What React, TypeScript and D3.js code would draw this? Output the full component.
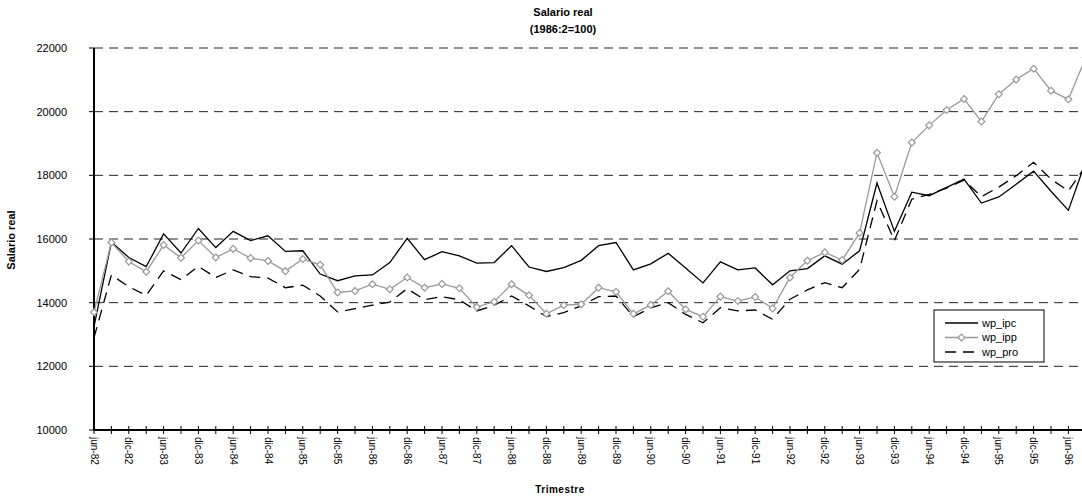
import React, { useEffect, useRef } from "react";
import * as d3 from "d3";

// quarters, jun-82 .. sep-96
const quarters = [
  "jun-82", "sep-82", "dic-82",
  "mar-83", "jun-83", "sep-83", "dic-83",
  "mar-84", "jun-84", "sep-84", "dic-84",
  "mar-85", "jun-85", "sep-85", "dic-85",
  "mar-86", "jun-86", "sep-86", "dic-86",
  "mar-87", "jun-87", "sep-87", "dic-87",
  "mar-88", "jun-88", "sep-88", "dic-88",
  "mar-89", "jun-89", "sep-89", "dic-89",
  "mar-90", "jun-90", "sep-90", "dic-90",
  "mar-91", "jun-91", "sep-91", "dic-91",
  "mar-92", "jun-92", "sep-92", "dic-92",
  "mar-93", "jun-93", "sep-93", "dic-93",
  "mar-94", "jun-94", "sep-94", "dic-94",
  "mar-95", "jun-95", "sep-95", "dic-95",
  "mar-96", "jun-96", "sep-96",
];

const wpIpc = [
  13250, 15900, 15420, 15130, 16160, 15560, 16330, 15730, 16240, 15950,
  16100, 15610, 15630, 14900, 14690, 14840, 14870, 15260, 16020, 15350,
  15600, 15470, 15240, 15260, 15790, 15120, 14980, 15100, 15330, 15790,
  15890, 15030, 15220, 15550, 15090, 14620, 15280, 15030, 15090, 14560,
  15000, 15070, 15470, 15210, 15630, 17760, 16240, 17470, 17360, 17620,
  17880, 17130, 17320, 17720, 18130, 17500, 16900, 18450,
];

const wpIpp = [
  13700, 15890, 15290, 14970, 15810, 15410, 15950, 15420, 15690, 15400,
  15310, 14990, 15370, 15190, 14320, 14370, 14580, 14420, 14790, 14470,
  14590, 14450, 13860, 14030, 14580, 14230, 13650, 13920, 13950, 14470,
  14340, 13650, 13930, 14360, 13790, 13560, 14190, 14050, 14180, 13820,
  14790, 15320, 15580, 15340, 16190, 18710, 17330, 19030, 19570, 20050,
  20400, 19690, 20550, 21010, 21350, 20660, 20390, 21700,
];

const wpPro = [
  12900, 14870, 14500, 14230, 15000, 14720, 15140, 14790, 15030, 14820,
  14770, 14470, 14550, 14210, 13710, 13810, 13920, 14020, 14440, 14090,
  14190, 14090, 13740, 13920, 14210, 13900, 13560, 13690, 13900, 14190,
  14210, 13560, 13840, 14000, 13630, 13370, 13840, 13740, 13770, 13480,
  14110, 14400, 14630, 14470, 15050, 17200, 15950, 17250, 17400, 17600,
  17850, 17330, 17630, 17990, 18410, 17880, 17510, 18300,
];

const yTicks = [10000, 12000, 14000, 16000, 18000, 20000, 22000];

const W = 1082;
const H = 498;
const font = "Arial, 'Liberation Sans', sans-serif";

export default function App() {
  const ref = useRef<SVGSVGElement>(null);

  useEffect(() => {
    const svg = d3.select(ref.current);
    svg.selectAll("*").remove();

    const left = 94;
    const top = 48;
    const bottom = 430;

    const x = d3
      .scalePoint<string>()
      .domain(quarters)
      .range([left, left + 17.4 * (quarters.length - 1)]);
    const y = d3.scaleLinear().domain([10000, 22000]).range([bottom, top]);

    // gridlines
    svg
      .append("g")
      .selectAll("line")
      .data(yTicks.filter((t) => t > 10000))
      .enter()
      .append("line")
      .attr("x1", left)
      .attr("x2", W)
      .attr("y1", (d) => y(d))
      .attr("y2", (d) => y(d))
      .attr("stroke", "#222")
      .attr("stroke-width", 1)
      .attr("stroke-dasharray", "9,6");

    // y axis
    const yAxis = svg.append("g");
    yAxis
      .append("line")
      .attr("x1", left)
      .attr("x2", left)
      .attr("y1", top)
      .attr("y2", bottom)
      .attr("stroke", "#000")
      .attr("stroke-width", 2);
    yAxis
      .selectAll(".yt")
      .data(yTicks)
      .enter()
      .append("line")
      .attr("x1", left - 5)
      .attr("x2", left)
      .attr("y1", (d) => y(d))
      .attr("y2", (d) => y(d))
      .attr("stroke", "#000");
    yAxis
      .selectAll(".yl")
      .data(yTicks)
      .enter()
      .append("text")
      .attr("x", 67)
      .attr("y", (d) => y(d))
      .attr("dy", "0.35em")
      .attr("text-anchor", "end")
      .style("font-family", font)
      .style("font-size", "11px")
      .text((d) => d);

    // x axis
    const xAxis = svg.append("g");
    xAxis
      .append("line")
      .attr("x1", left)
      .attr("x2", W)
      .attr("y1", bottom)
      .attr("y2", bottom)
      .attr("stroke", "#000")
      .attr("stroke-width", 2);
    xAxis
      .selectAll(".xt")
      .data(quarters)
      .enter()
      .append("line")
      .attr("x1", (d) => x(d)!)
      .attr("x2", (d) => x(d)!)
      .attr("y1", bottom - 4)
      .attr("y2", bottom + 4)
      .attr("stroke", "#000");
    xAxis
      .selectAll(".xl")
      .data(quarters.filter((q) => q.startsWith("jun") || q.startsWith("dic")))
      .enter()
      .append("text")
      .attr("transform", (d) => `translate(${x(d)},${bottom + 7}) rotate(90)`)
      .attr("dy", "0.35em")
      .attr("text-anchor", "start")
      .style("font-family", font)
      .style("font-size", "10px")
      .text((d) => d);

    const line = (vals: number[]) =>
      d3
        .line<number>()
        .x((_, i) => x(quarters[i])!)
        .y((d) => y(d))(vals);

    svg
      .append("path")
      .attr("d", line(wpPro))
      .attr("fill", "none")
      .attr("stroke", "#000")
      .attr("stroke-width", 1.3)
      .attr("stroke-dasharray", "11,7");

    svg
      .append("path")
      .attr("d", line(wpIpc))
      .attr("fill", "none")
      .attr("stroke", "#000")
      .attr("stroke-width", 1.3);

    svg
      .append("path")
      .attr("d", line(wpIpp))
      .attr("fill", "none")
      .attr("stroke", "#999")
      .attr("stroke-width", 1.3);

    const diamond = d3.symbol().type(d3.symbolDiamond2).size(30);
    svg
      .append("g")
      .selectAll("path")
      .data(wpIpp)
      .enter()
      .append("path")
      .attr("d", diamond)
      .attr("transform", (d, i) => `translate(${x(quarters[i])},${y(d)})`)
      .attr("fill", "#fff")
      .attr("stroke", "#999")
      .attr("stroke-width", 1.2);

    // titles
    svg
      .append("text")
      .attr("x", 563)
      .attr("y", 16)
      .attr("text-anchor", "middle")
      .style("font-family", font)
      .style("font-size", "11px")
      .style("font-weight", "bold")
      .text("Salario real");
    svg
      .append("text")
      .attr("x", 563)
      .attr("y", 33)
      .attr("text-anchor", "middle")
      .style("font-family", font)
      .style("font-size", "11px")
      .style("font-weight", "bold")
      .text("(1986:2=100)");
    svg
      .append("text")
      .attr("transform", "translate(15,240) rotate(-90)")
      .attr("text-anchor", "middle")
      .style("font-family", font)
      .style("font-size", "11px")
      .style("font-weight", "bold")
      .text("Salario real");
    svg
      .append("text")
      .attr("x", 560)
      .attr("y", 493)
      .attr("text-anchor", "middle")
      .style("font-family", font)
      .style("font-size", "10px")
      .style("font-weight", "bold")
      .style("letter-spacing", "0.5px")
      .text("Trimestre");

    // legend
    const lg = svg.append("g").attr("transform", "translate(934,310)");
    lg.append("rect")
      .attr("width", 110)
      .attr("height", 52)
      .attr("fill", "#fff")
      .attr("stroke", "#000");
    const items = [
      { name: "wp_ipc", color: "#000", dash: null as string | null, marker: false },
      { name: "wp_ipp", color: "#999", dash: null, marker: true },
      { name: "wp_pro", color: "#000", dash: "11,7", marker: false },
    ];
    items.forEach((it, i) => {
      const yy = 13 + i * 14.5;
      lg.append("line")
        .attr("x1", 11)
        .attr("x2", 44)
        .attr("y1", yy)
        .attr("y2", yy)
        .attr("stroke", it.color)
        .attr("stroke-width", 1.3)
        .attr("stroke-dasharray", it.dash);
      if (it.marker) {
        lg.append("path")
          .attr("d", diamond)
          .attr("transform", `translate(27.5,${yy})`)
          .attr("fill", "#fff")
          .attr("stroke", it.color)
          .attr("stroke-width", 1.2);
      }
      lg.append("text")
        .attr("x", 48)
        .attr("y", yy)
        .attr("dy", "0.35em")
        .style("font-family", font)
        .style("font-size", "11px")
        .text(it.name);
    });
  }, []);

  return (
    <svg
      ref={ref}
      width={W}
      height={H}
      style={{ position: "absolute", left: 0, top: 0, background: "#fff" }}
    />
  );
}
